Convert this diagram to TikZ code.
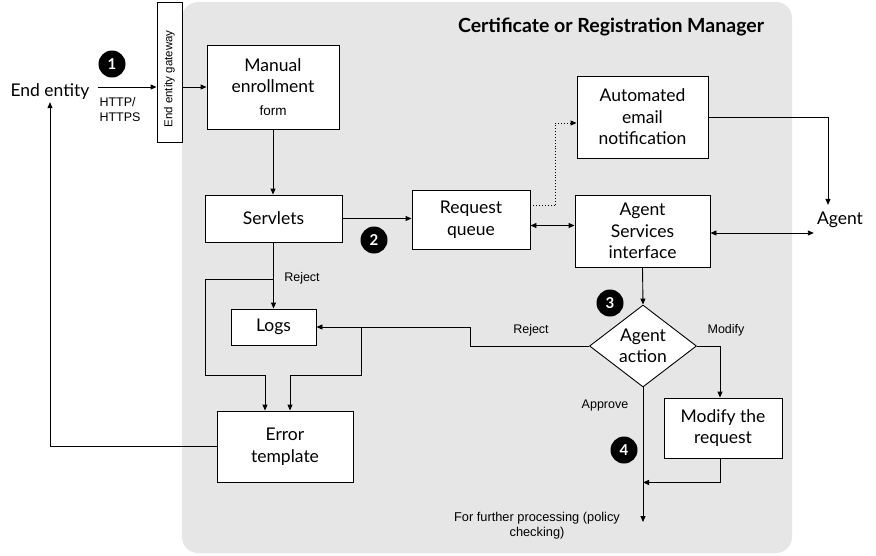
\documentclass[tikz,border=0pt]{standalone}
\usepackage{fontspec}
\setmainfont{Lato}
\newfontfamily\arialf{Liberation Sans}
\usetikzlibrary{shapes.geometric,arrows.meta,calc}
\definecolor{panelgray}{RGB}{230,230,230}
\tikzset{
  box/.style={draw, fill=white, line width=0.9pt, inner sep=0pt, align=center,
    font=\fontsize{17.5}{21.5}\selectfont},
  lbl/.style={inner sep=2pt, align=center, font=\fontsize{17.5}{21.5}\selectfont},
  small/.style={inner sep=0pt, align=center, font=\arialf\fontsize{12.5}{15}\selectfont},
  num/.style={circle, fill=black, text=white, minimum size=27pt, inner sep=0pt,
    font=\bfseries\fontsize{15}{15}\selectfont},
  conn/.style={line width=0.9pt},
  arr/.style={conn, -{Triangle[length=6pt,width=5pt]}},
  darr/.style={conn, {Triangle[length=6pt,width=5pt]}-{Triangle[length=6pt,width=5pt]}},
}
\begin{document}
\begin{tikzpicture}[x=1pt,y=-1pt]
\useasboundingbox (0,0) rectangle (876,555);
% panel
\fill[panelgray, rounded corners=16pt] (182,2) rectangle (792,553);
\node[font=\bfseries\fontsize{19.5}{22}\selectfont, inner sep=0pt] (title) at (611,27) {Certificate or Registration Manager};

% nodes
\node[lbl] (ee) at (50,92) {End entity};
\node[box, minimum width=25pt, minimum height=140pt] (gw) at (169.5,72) {};
\node[small, rotate=90, font=\arialf\fontsize{11.5}{13}\selectfont] (gwt) at (169.5,79) {End entity gateway};
\node[box, minimum width=132pt, minimum height=84pt] (man) at (273,87) {Manual\\enrollment\\[1pt]{\arialf\fontsize{13.5}{15}\selectfont form}};
\node[box, minimum width=137pt, minimum height=47pt] (srv) at (273.5,218.5) {Servlets};
\node[box, minimum width=118pt, minimum height=59pt] (rq) at (471,219.5) {Request\\queue};
\node[box, minimum width=131pt, minimum height=82pt] (aen) at (642.5,117) {Automated\\email\\notification};
\node[box, minimum width=135pt, minimum height=72pt] (asi) at (642.5,231) {Agent\\Services\\interface};
\node[lbl, inner sep=3pt] (ag) at (840,220) {Agent};
\node[box, diamond, aspect=1.3, minimum width=107pt, minimum height=82pt] (dia) at (643,346) {Agent\\action};
\node[box, minimum width=118pt, minimum height=60pt] (mod) at (723,428) {Modify the\\request};
\node[box, minimum width=85pt, minimum height=36pt] (logs) at (273.5,327) {Logs};
\node[box, minimum width=136pt, minimum height=71pt] (err) at (285,446.5) {Error\\template};

% numbers
\node[num] (n1) at (112,64) {1};
\node[num] (n2) at (374,240) {2};
\node[num] (n3) at (610,303) {3};
\node[num] (n4) at (624,450) {4};

% small labels
\node[small, align=left] (http) at (120,110) {HTTP/\\HTTPS};
\node[small] (rej1) at (302,278) {Reject};
\node[small] (rej2) at (531,330) {Reject};
\node[small] (modl) at (726,330) {Modify};
\node[small] (appr) at (605,405) {Approve};
\node[small, font=\arialf\fontsize{12.8}{15}\selectfont] (fpt) at (537,526) {For further processing (policy\\checking)};

% coordinates
\coordinate (fp) at (643,522);
\coordinate (b1) at (273.5,279);
\coordinate (b2) at (361,327);

% connectors
\draw[arr] ([xshift=6pt]ee.east |- man.west) -- (gw.west |- man.west);
\draw[arr] (gw.east |- man.west) -- (man.west);
\draw[arr] (man.south) -- (srv.north -| man.south);
\draw[arr] (srv.east) -- (srv.east -| rq.west);
\draw[arr, dotted] ([yshift=14pt]rq.east) -- ++(25,0) |- ([yshift=-6pt]aen.west);
\draw[arr] (aen.east) -| ([xshift=-12pt,yshift=4pt]ag.north);
\draw[darr] ([yshift=-6pt]rq.east) -- ([yshift=-6pt]rq.east -| asi.west);
\draw[darr] ([yshift=-2pt]asi.east) -- ([yshift=-2pt]asi.east -| ag.west);
\draw[arr] (asi.south) -- (dia.north);
\draw[arr] (dia.east) -| ([xshift=-3pt]mod.north);
\draw[arr] ([xshift=-3pt]mod.south) |- ([yshift=-24pt]dia.south |- mod.south);
\draw[arr] (dia.south) -- (fp);
\draw[arr] (dia.west) -- (470,346) |- (logs.east);
\draw[arr] (srv.south) -- (logs.north);
\draw[arr] (b1) -| (205,375) -| ([xshift=-20pt]err.north);
\draw[arr] (b2) -- (361,375) -| ([xshift=5pt]err.north);
\draw[arr] (err.west) -| (ee.south);
\end{tikzpicture}
\end{document}
